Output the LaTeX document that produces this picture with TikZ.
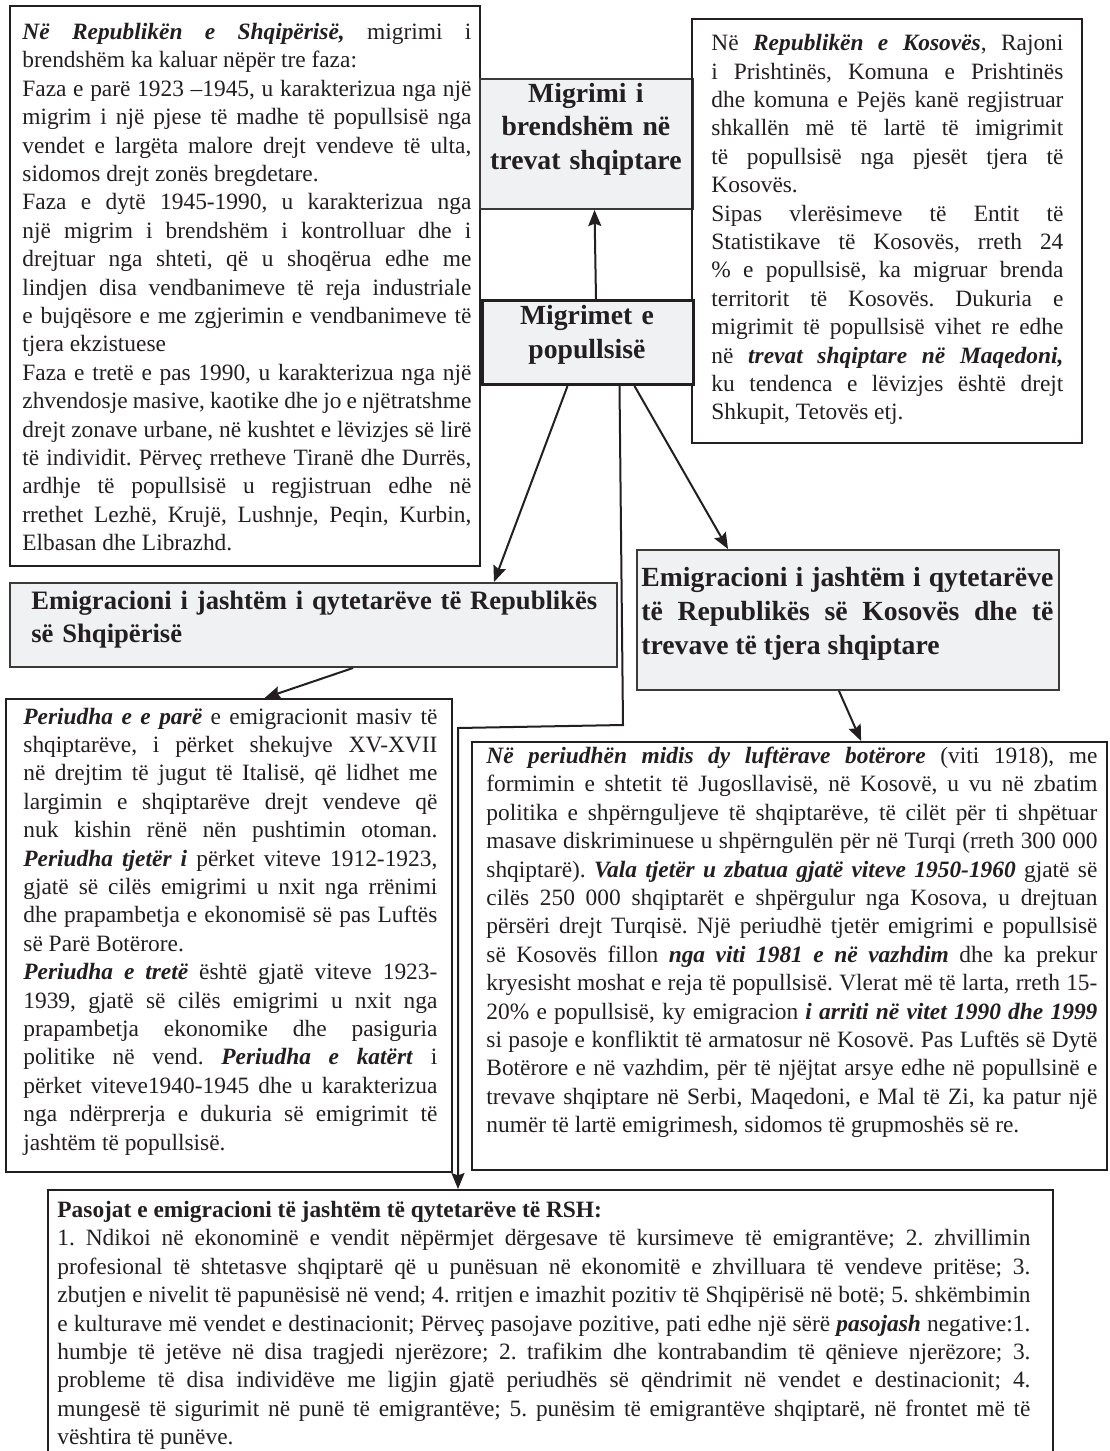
\documentclass[tikz,border=0pt]{standalone}
\usepackage{fontspec}
\setmainfont{Liberation Serif}
\usetikzlibrary{arrows.meta}
\definecolor{ink}{HTML}{231F20}
\definecolor{frame}{HTML}{3A3A3A}
\definecolor{tfill}{HTML}{F0F1F3}
\newcommand\mybody{\fontsize{11.7pt}{14.2pt}\selectfont}
\newcommand\mytitle{\fontsize{13.85pt}{16.8pt}\selectfont\bfseries}
\newcommand\mytitlesm{\fontsize{13.3pt}{16.5pt}\selectfont\bfseries}
\newcommand\bi[1]{\textbf{\textit{#1}}}
\setlength\parindent{0pt}
\setlength\parskip{0pt}
\tolerance=9999
\hyphenpenalty=10000
\exhyphenpenalty=10000
\frenchspacing
\begin{document}
\begin{tikzpicture}[x=0.5pt,y=-0.5pt,
  cbox/.style={draw=ink, line width=1.1pt, inner sep=0pt, anchor=north west},
  tbox/.style={draw=frame, fill=tfill, line width=1pt, inner sep=0pt, anchor=north west},
  txt/.style={inner sep=0pt, anchor=north west, align=justify, font=\mybody, text=ink},
  ttl/.style={inner sep=0pt, anchor=north west, font=\mytitle, text=ink},
  arr/.style={draw=ink, line width=1pt, -{Stealth[length=8pt,width=6.5pt,inset=1.2pt]}},
]
\useasboundingbox (0,0) rectangle (1109,1451);
\clip (0,0) rectangle (1109,1451);
\fill[white] (0,0) rectangle (1109,1451);

% boxes
\node[cbox, minimum width=235pt, minimum height=280pt] (tl) at (9,5) {};
\node[tbox, minimum width=106.5pt, minimum height=65pt] (mb) at (479,78) {};
\node[cbox, minimum width=195pt, minimum height=212pt] (tr) at (691,18) {};
\node[tbox, draw=ink, line width=1.5pt, minimum width=105.5pt, minimum height=42pt] (mp) at (481,299) {};
\node[tbox, minimum width=303.5pt, minimum height=42pt] (el) at (9,582) {};
\node[tbox, minimum width=211pt, minimum height=70pt] (er) at (636,549) {};
\node[cbox, minimum width=223pt, minimum height=236.5pt] (bl) at (5,698) {};
\node[cbox, minimum width=317.5pt, minimum height=214pt] (br) at (471,741) {};
\node[cbox, minimum width=502.5pt, minimum height=160pt] (bt) at (47,1189) {};

% connectors
\coordinate (k1) at (623,725);
\coordinate (k2) at (458,728);
\draw[arr] ([xshift=4pt]mp.north) -- ([xshift=4pt]mb.south);
\draw[arr] ([xshift=-10.25pt]mp.south) -- ([xshift=-62pt]el.north east);
\draw[arr] ([xshift=23.25pt]mp.south) -- ([xshift=46pt]er.north west);
\draw[arr] ([xshift=15.75pt]mp.south) -- (k1) -- (k2) -- (k2 |- bt.north);
\draw[arr] ([xshift=19.75pt]el.south) -- ([xshift=17.75pt]bl.north);
\draw[arr] ([xshift=-4.5pt]er.south) -- ([xshift=35.75pt]br.north);

% titles
\node[ttl, text width=106.5pt, align=center] (mbt) at (479,78.4)
  {\strut Migrimi i\\brendshëm në\\trevat shqiptare};
\node[ttl, text width=105.5pt, align=center] (mpt) at (481,300.9)
  {\strut Migrimet e\\popullsisë};
\node[ttl, font=\mytitlesm, text width=296pt, align=left] (elt) at (31,585.5)
  {\strut Emigracioni i jashtëm i qytetarëve të Republikës\\së Shqipërisë};
\node[ttl, text width=206pt, align=justify] (ert) at (641,562.9)
  {\strut Emigracioni i jashtëm i qytetarëve\linebreak të Republikës së Kosovës dhe të\linebreak trevave të tjera shqiptare};

% texts
\node[txt, text width=224.5pt] (tlt) at (22,19.2) {\strut\bi{Në Republikën e Shqipërisë,} migrimi i\linebreak brendshëm ka kaluar nëpër tre faza:\par
Faza e parë 1923 –1945, u karakterizua nga një\linebreak migrim i një pjese të madhe të popullsisë nga\linebreak vendet e largëta malore drejt vendeve të ulta,\linebreak sidomos drejt zonës bregdetare.\par
Faza e dytë 1945-1990, u karakterizua nga\linebreak një migrim i brendshëm i kontrolluar dhe i\linebreak drejtuar nga shteti, që u shoqërua edhe me\linebreak lindjen disa vendbanimeve të reja industriale\linebreak e bujqësore e me zgjerimin e vendbanimeve të\linebreak tjera ekzistuese\par
Faza e tretë e pas 1990, u karakterizua nga një\linebreak zhvendosje masive, kaotike dhe jo e njëtratshme\linebreak drejt zonave urbane, në kushtet e lëvizjes së lirë\linebreak të individit. Përveç rretheve Tiranë dhe Durrës,\linebreak ardhje të popullsisë u regjistruan edhe në\linebreak rrethet Lezhë, Krujë, Lushnje, Peqin, Kurbin,\linebreak Elbasan dhe Librazhd.};

\node[txt, text width=176pt] (trt) at (711,30.4) {\strut Në \bi{Republikën e Kosovës}, Rajoni\linebreak i Prishtinës, Komuna e Prishtinës\linebreak dhe komuna e Pejës kanë regjistruar\linebreak shkallën më të lartë të imigrimit\linebreak të popullsisë nga pjesët tjera të\linebreak Kosovës.\par
Sipas vlerësimeve të Entit të\linebreak Statistikave të Kosovës, rreth 24\linebreak \% e popullsisë, ka migruar brenda\linebreak territorit të Kosovës. Dukuria e\linebreak migrimit të popullsisë vihet re edhe\linebreak në \bi{trevat shqiptare në Maqedoni,}\linebreak ku tendenca e lëvizjes është drejt\linebreak Shkupit, Tetovës etj.};

\node[txt, text width=207pt] (blt) at (23,703.8) {\strut\bi{Periudha e e parë} e emigracionit masiv të\linebreak shqiptarëve, i përket shekujve XV-XVII\linebreak në drejtim të jugut të Italisë, që lidhet me\linebreak largimin e shqiptarëve drejt vendeve që\linebreak nuk kishin rënë nën pushtimin otoman.\linebreak \bi{Periudha tjetër i} përket viteve 1912-1923,\linebreak gjatë së cilës emigrimi u nxit nga rrënimi\linebreak dhe prapambetja e ekonomisë së pas Luftës\linebreak së Parë Botërore.\par
\bi{Periudha e tretë} është gjatë viteve 1923-\linebreak 1939, gjatë së cilës emigrimi u nxit nga\linebreak prapambetja ekonomike dhe pasiguria\linebreak politike në vend. \bi{Periudha e katërt} i\linebreak përket viteve1940-1945 dhe u karakterizua\linebreak nga ndërprerja e dukuria së emigrimit të\linebreak jashtëm të popullsisë.};

\node[txt, text width=305.5pt] (brt) at (486,743.3) {\strut\bi{Në periudhën midis dy luftërave botërore} (viti 1918), me\linebreak formimin e shtetit të Jugosllavisë, në Kosovë, u vu në zbatim\linebreak politika e shpërnguljeve të shqiptarëve, të cilët për ti shpëtuar\linebreak masave diskriminuese u shpërngulën për në Turqi (rreth 300 000\linebreak shqiptarë). \bi{Vala tjetër u zbatua gjatë viteve 1950-1960} gjatë së\linebreak cilës 250 000 shqiptarët e shpërgulur nga Kosova, u drejtuan\linebreak përsëri drejt Turqisë. Një periudhë tjetër emigrimi e popullsisë\linebreak së Kosovës fillon \bi{nga viti 1981 e në vazhdim} dhe ka prekur\linebreak kryesisht moshat e reja të popullsisë. Vlerat më të larta, rreth 15-\linebreak 20\% e popullsisë, ky emigracion \bi{i arriti në vitet 1990 dhe 1999}\linebreak si pasoje e konfliktit të armatosur në Kosovë. Pas Luftës së Dytë\linebreak Botërore e në vazhdim, për të njëjtat arsye edhe në popullsinë e\linebreak trevave shqiptare në Serbi, Maqedoni, e Mal të Zi, ka patur një\linebreak numër të lartë emigrimesh, sidomos të grupmoshës së re.};

\node[txt, text width=486.5pt] (btt) at (57,1197.3) {\strut\textbf{Pasojat e emigracioni të jashtëm të qytetarëve të RSH:}\par
1. Ndikoi në ekonominë e vendit nëpërmjet dërgesave të kursimeve të emigrantëve; 2. zhvillimin\linebreak profesional të shtetasve shqiptarë që u punësuan në ekonomitë e zhvilluara të vendeve pritëse; 3.\linebreak zbutjen e nivelit të papunësisë në vend; 4. rritjen e imazhit pozitiv të Shqipërisë në botë; 5. shkëmbimin\linebreak e kulturave më vendet e destinacionit; Përveç pasojave pozitive, pati edhe një sërë \bi{pasojash} negative:1.\linebreak humbje të jetëve në disa tragjedi njerëzore; 2. trafikim dhe kontrabandim të qënieve njerëzore; 3.\linebreak probleme të disa individëve me ligjin gjatë periudhës së qëndrimit në vendet e destinacionit; 4.\linebreak mungesë të sigurimit në punë të emigrantëve; 5. punësim të emigrantëve shqiptarë, në frontet më të\linebreak vështira të punëve.};
\end{tikzpicture}
\end{document}
